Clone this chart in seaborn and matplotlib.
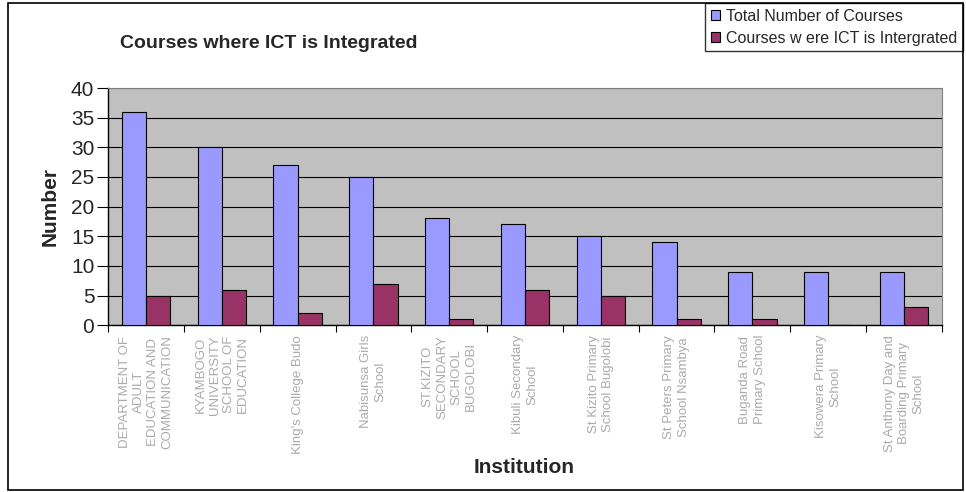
import matplotlib
matplotlib.use("Agg")
import matplotlib.pyplot as plt
import seaborn as sns
import pandas as pd
from matplotlib.patches import Rectangle
from matplotlib.ticker import MultipleLocator, FixedLocator

institutions = [
    "DEPARTMENT OF\nADULT\nEDUCATION AND\nCOMMUNICATION",
    "KYAMBOGO\nUNIVERSITY\nSCHOOL OF\nEDUCATION",
    "King's College Budo",
    "Nabisunsa Girls\nSchool",
    "ST.KIZITO\nSECONDARY\nSCHOOL\nBUGOLOBI",
    "Kibuli Secondary\nSchool",
    "St Kizito Primary\nSchool Bugolobi",
    "St Peters Primary\nSchool Nsambya",
    "Buganda Road\nPrimary School",
    "Kisowera Primary\nSchool",
    "St Anthony Day and\nBoarding Primary\nSchool",
]
total_courses = [36, 30, 27, 25, 18, 17, 15, 14, 9, 9, 9]
ict_courses = [5, 6, 2, 7, 1, 6, 5, 1, 1, 0, 3]
series_names = ["Total Number of Courses", "Courses w ere ICT is Intergrated"]
colors = ["#9999FF", "#993366"]

df = pd.DataFrame({
    "Institution": institutions * 2,
    "Number": total_courses + ict_courses,
    "Series": [series_names[0]] * len(institutions) + [series_names[1]] * len(institutions),
})

sns.set_theme(style="white")
plt.rcParams["font.family"] = ["Liberation Sans", "DejaVu Sans"]

fig = plt.figure(figsize=(9.66, 4.92), dpi=100)
ax = fig.add_axes([0.112, 0.339, 0.863, 0.482])
ax.set_facecolor("#C0C0C0")

sns.barplot(data=df, x="Institution", y="Number", hue="Series",
            palette=colors, saturation=1, width=0.64, edgecolor="black", linewidth=0.8,
            ax=ax, legend=False, zorder=3)

ax.set_ylim(0, 40)
ax.set_xlim(-0.5, len(institutions) - 0.5)
ax.yaxis.set_major_locator(MultipleLocator(5))
ax.grid(axis="y", color="black", linewidth=0.8, zorder=0)
ax.set_axisbelow(True)
ax.tick_params(axis="y", labelsize=15, direction="out", length=8, width=0.8,
               color="black", left=True, pad=2)
ax.tick_params(axis="x", which="major", length=0, pad=7)
ax.xaxis.set_minor_locator(FixedLocator([i - 0.5 for i in range(len(institutions) + 1)]))
ax.tick_params(axis="x", which="minor", length=5, width=0.8, color="black", bottom=True, direction="out")
ax.set_xticks(range(len(institutions)))
ax.set_xticklabels(institutions, rotation=90, fontsize=9.5, color="#ABABAB",
                   ha="center", va="top", multialignment="center", linespacing=1.25)
for s in ["left", "bottom"]:
    ax.spines[s].set_color("black")
    ax.spines[s].set_linewidth(1.0)
for s in ["top", "right"]:
    ax.spines[s].set_color("#808080")
    ax.spines[s].set_linewidth(0.8)

ax.set_ylabel("Number", fontsize=15, fontweight="bold", labelpad=8)
ax.set_xlabel("")
fig.text(0.543, 0.05, "Institution", fontsize=15, fontweight="bold", ha="center", va="center")
fig.text(0.124, 0.912, "Courses where ICT is Integrated", fontsize=14, fontweight="bold",
         ha="left", va="center")

# figure border
fig.patches.append(Rectangle((8 / 966, 2 / 492), 955 / 966, 487 / 492, transform=fig.transFigure,
                             fill=False, edgecolor="black", linewidth=1.2, zorder=10))
# legend
handles = [Rectangle((0, 0), 1, 1, facecolor=c, edgecolor="black", linewidth=0.8) for c in colors]
leg = fig.legend(handles, series_names, loc="upper right", bbox_to_anchor=(963 / 966, 1 - 3 / 492),
                 frameon=True, fontsize=11.5, handlelength=0.55, handleheight=0.55,
                 handletextpad=0.4, labelspacing=0.45, borderpad=0.35, fancybox=False,
                 borderaxespad=0)
leg.get_frame().set_edgecolor("black")
leg.get_frame().set_linewidth(1.0)

fig.savefig("out.png", dpi=100)
